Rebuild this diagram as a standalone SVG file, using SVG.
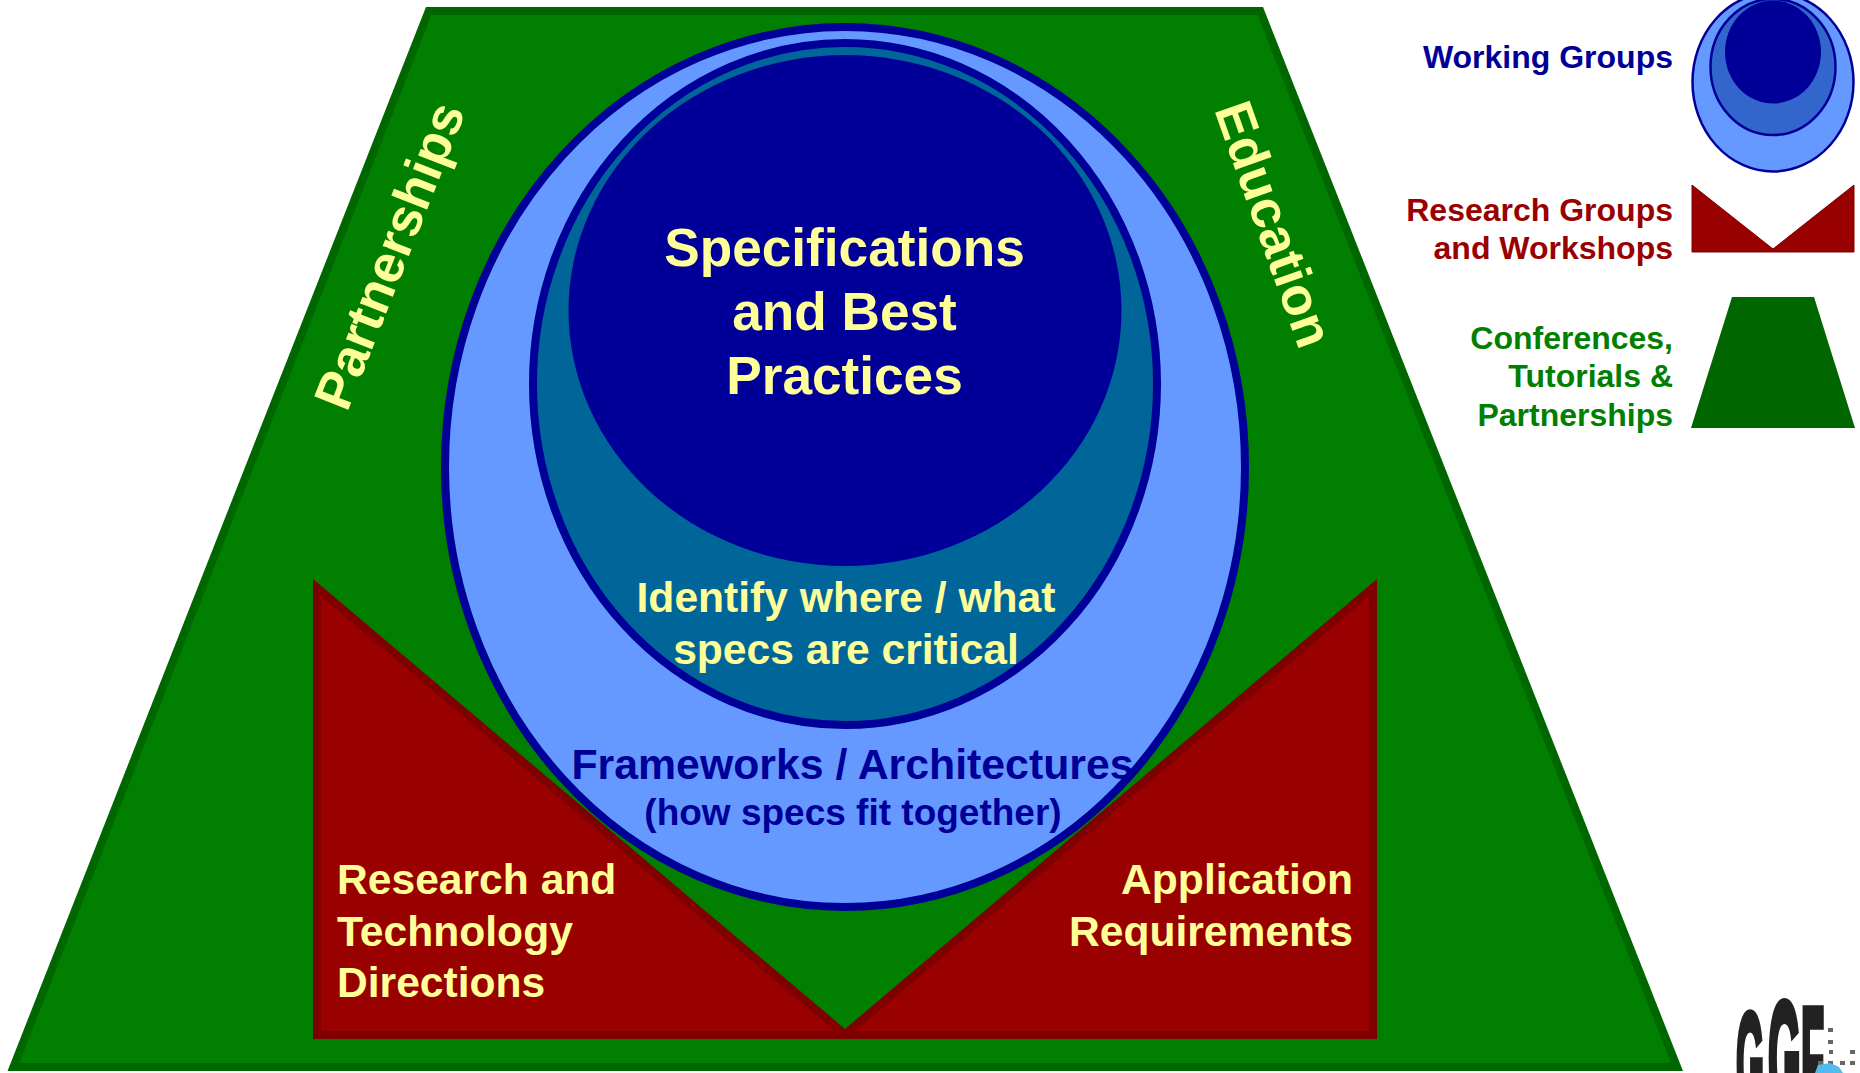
<svg xmlns="http://www.w3.org/2000/svg" width="1860" height="1073" viewBox="0 0 1860 1073">
<style>
text{font-family:"Liberation Sans",Arial,sans-serif;font-weight:700}
.y{fill:#ffff99}.b{fill:#000099}.r{fill:#990000}.g{fill:#007f00}
.m{text-anchor:middle}.e{text-anchor:end}
.l{font-size:32px}.t{font-size:42.600px}
.k{fill:#222;font-size:100px;stroke:#222;stroke-width:5}
.d{fill:#666}
</style>
<rect width="1860" height="1073" fill="#fff"/>
<g id="conferences"><polygon points="428.7,11 1260.3,11 1677.1,1067 13.4,1067" fill="#007f00" stroke="#006600" stroke-width="8"/></g>
<g id="research"><polygon points="317,587.6 845,1034.2 1373,587.6 1373,1035 317,1035" fill="#990000" stroke="#7f0000" stroke-width="8"/></g>
<g id="frameworks"><ellipse cx="845" cy="467" rx="400" ry="440" fill="#6699ff" stroke="#000099" stroke-width="8"/></g>
<g id="identify"><ellipse cx="845" cy="384" rx="312" ry="341" fill="#006699" stroke="#000099" stroke-width="8"/></g>
<g id="specs"><ellipse cx="845" cy="310.500" rx="276.500" ry="255.500" fill="#000099"/></g>
<g id="labels">
<text class="y m" font-size="53.200" x="844.500" y="266">Specifications</text>
<text class="y m" font-size="53.200" x="844.500" y="330">and Best</text>
<text class="y m" font-size="53.200" x="844.500" y="394">Practices</text>
<text class="y m t" x="846" y="612">Identify where / what</text>
<text class="y m t" x="846" y="664">specs are critical</text>
<text class="b m" font-size="42.800" x="852.500" y="779">Frameworks / Architectures</text>
<text class="b m" font-size="37" x="853" y="825">(how specs fit together)</text>
<text class="y t" x="337" y="894">Research and</text>
<text class="y t" x="337" y="946">Technology</text>
<text class="y t" x="337" y="997">Directions</text>
<text class="y t e" x="1353" y="894">Application</text>
<text class="y t e" x="1353" y="946">Requirements</text>
<text class="y" font-size="53" transform="translate(347,413) rotate(-68.500)">Partnerships</text>
<text class="y" font-size="53" transform="translate(1214,109.500) rotate(70.500)">Education</text>
</g>
<g id="legend-working-groups">
<ellipse cx="1773" cy="82" rx="80.500" ry="89.500" fill="#6699ff" stroke="#000099" stroke-width="2.500"/>
<ellipse cx="1773" cy="67" rx="62.500" ry="68" fill="#3366cc" stroke="#000099" stroke-width="2.500"/>
<ellipse cx="1773" cy="52" rx="48" ry="51.500" fill="#000099"/>
<text class="b l e" x="1673" y="68">Working Groups</text>
</g>
<g id="legend-research-groups">
<polygon points="1692,185 1773,249 1854,185 1854,252 1692,252" fill="#990000" stroke="#7f0000" stroke-width="1"/>
<text class="r l e" x="1673" y="221">Research Groups</text>
<text class="r l e" x="1673" y="259">and Workshops</text>
</g>
<g id="legend-conferences">
<polygon points="1732,297 1814,297 1855,428 1691,428" fill="#006600"/>
<text class="g l e" x="1673" y="349">Conferences,</text>
<text class="g l e" x="1673" y="387">Tutorials &amp;</text>
<text class="g l e" x="1673" y="426">Partnerships</text>
</g>
<g id="logo">
<text class="k" transform="translate(1736,1113) scale(.36,1.42)">G</text>
<text class="k" transform="translate(1768,1113) scale(.42,1.6)">G</text>
<text class="k" transform="translate(1801,1113) scale(.38,1.52)">F</text>
<g class="d"><rect x="1828" y="1028" width="5" height="4"/><rect x="1828" y="1040" width="5" height="4"/><rect x="1829" y="1050" width="4" height="4"/><rect x="1850" y="1050" width="5" height="4"/><rect x="1818" y="1061" width="5" height="4"/><rect x="1828" y="1061" width="5" height="4"/><rect x="1840" y="1061" width="5" height="4"/><rect x="1850" y="1061" width="5" height="4"/></g>
<path d="M1815 1073l3-8 12-2 9 4 4 6z" fill="#55bbee"/>
</g>
</svg>
